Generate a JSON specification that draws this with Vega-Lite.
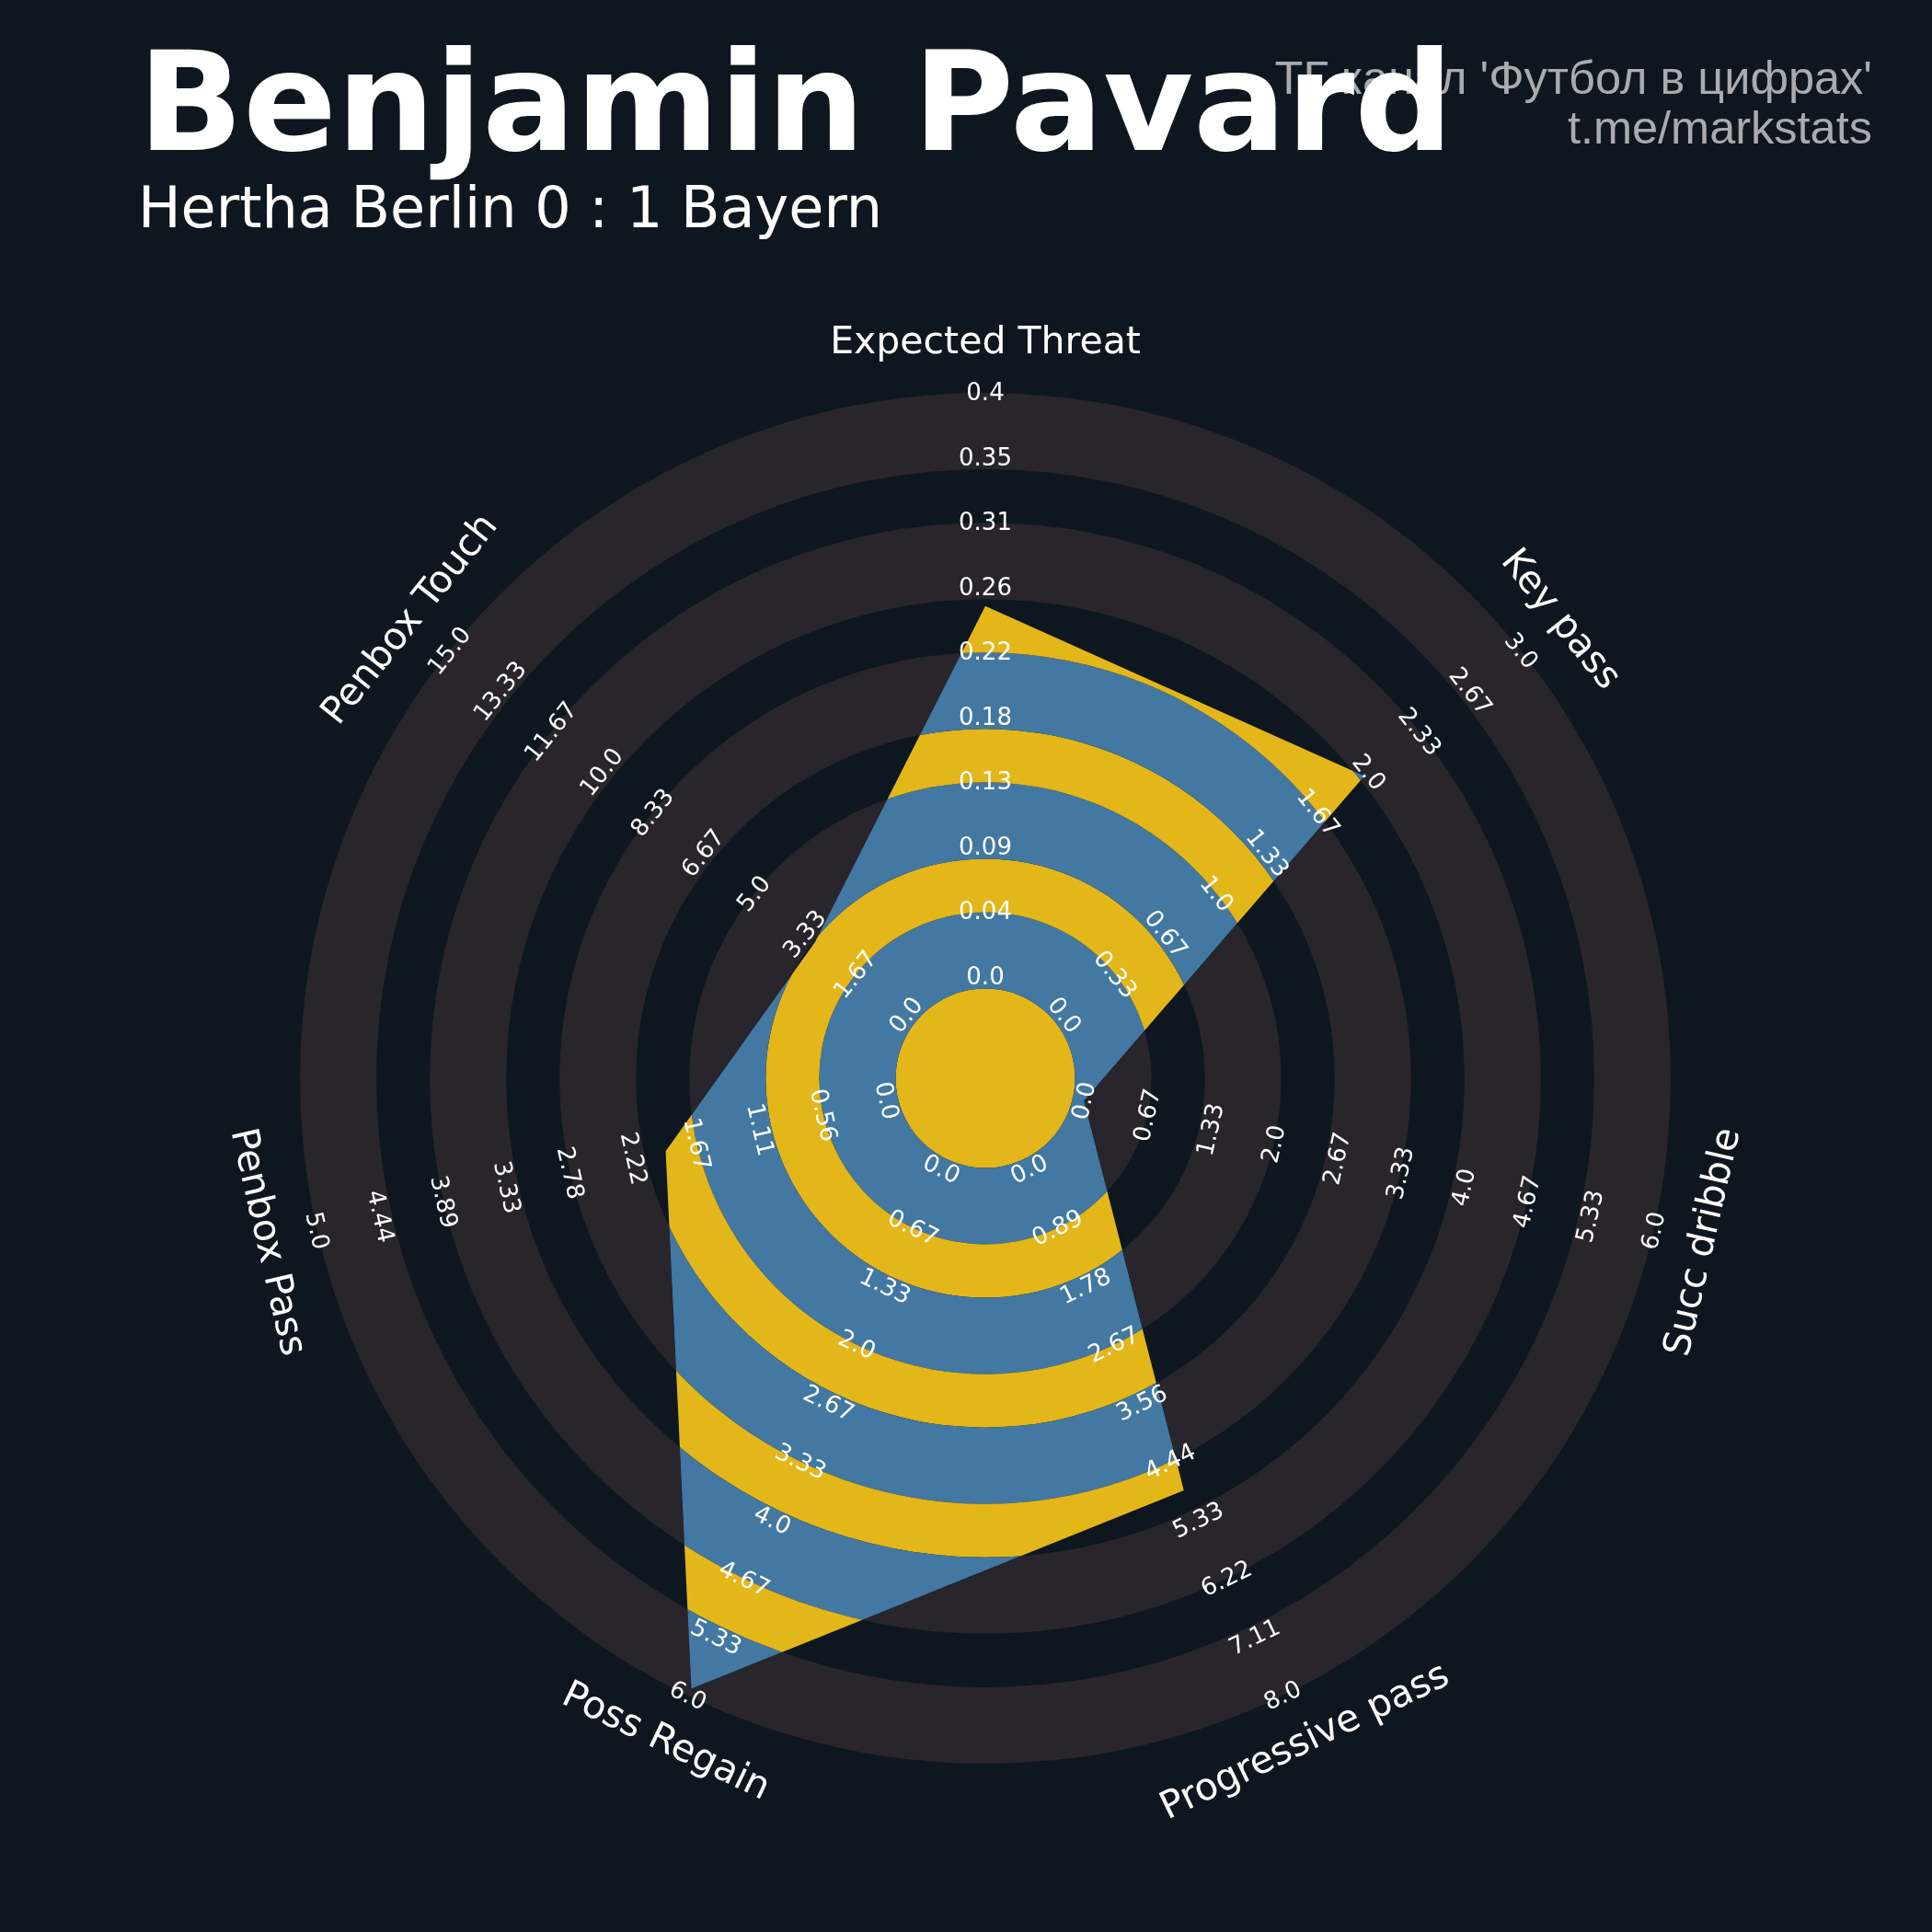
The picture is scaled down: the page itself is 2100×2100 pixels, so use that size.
{
  "$schema": "https://vega.github.io/schema/vega-lite/v6.json",
  "width": 2100,
  "height": 2100,
  "autosize": {"type": "none"},
  "padding": 0,
  "background": "#0e1720",
  "config": {"view": {"stroke": null}},
  "title": {
    "text": "Benjamin Pavard",
    "subtitle": "Hertha Berlin 0 : 1 Bayern",
    "anchor": "start",
    "frame": "group",
    "orient": "top",
    "offset": -260,
    "dx": 150,
    "font": "DejaVu Sans",
    "fontSize": 150,
    "fontWeight": "bold",
    "color": "#ffffff",
    "subtitleFont": "DejaVu Sans",
    "subtitleFontSize": 62,
    "subtitleColor": "#ffffff",
    "subtitlePadding": 4
  },
  "datasets": {
    "params": [
      {"param": "Expected Threat", "i": 0, "value": 0.254, "min": 0, "max": 0.4, "ticks": ["0.0", "0.04", "0.09", "0.13", "0.18", "0.22", "0.26", "0.31", "0.35", "0.4"]},
      {"param": "Key pass", "i": 1, "value": 1.97, "min": 0, "max": 3, "ticks": ["0.0", "0.33", "0.67", "1.0", "1.33", "1.67", "2.0", "2.33", "2.67", "3.0"]},
      {"param": "Succ dribble", "i": 2, "value": 0, "min": 0, "max": 6, "ticks": ["0.0", "0.67", "1.33", "2.0", "2.67", "3.33", "4.0", "4.67", "5.33", "6.0"]},
      {"param": "Progressive pass", "i": 3, "value": 4.88, "min": 0, "max": 8, "ticks": ["0.0", "0.89", "1.78", "2.67", "3.56", "4.44", "5.33", "6.22", "7.11", "8.0"]},
      {"param": "Poss Regain", "i": 4, "value": 5.92, "min": 0, "max": 6, "ticks": ["0.0", "0.67", "1.33", "2.0", "2.67", "3.33", "4.0", "4.67", "5.33", "6.0"]},
      {"param": "Penbox Pass", "i": 5, "value": 1.94, "min": 0, "max": 5, "ticks": ["0.0", "0.56", "1.11", "1.67", "2.22", "2.78", "3.33", "3.89", "4.44", "5.0"]},
      {"param": "Penbox Touch", "i": 6, "value": 3.0, "min": 0, "max": 15, "ticks": ["0.0", "1.67", "3.33", "5.0", "6.67", "8.33", "10.0", "11.67", "13.33", "15.0"]}
    ],
    "rings": [{"k": 0}, {"k": 1}, {"k": 2}, {"k": 3}, {"k": 4}, {"k": 5}, {"k": 6}, {"k": 7}, {"k": 8}, {"k": 9}]
  },
  "layer": [
    {
      "data": {"name": "rings"},
      "transform": [
        {"calculate": "110 + 70.55 * datum.k - (datum.k % 2 == 0 ? 12.5 : 0)", "as": "ro"},
        {"calculate": "datum.k == 0 ? 0 : 110 + 70.55 * (datum.k - 1) - ((datum.k - 1) % 2 == 0 ? 12.5 : 0)", "as": "ri"},
        {"calculate": "datum.k % 2 == 1 ? 'wide' : 'narrow'", "as": "band"}
      ],
      "mark": {"type": "arc", "theta": 0, "theta2": 6.283185307179586, "strokeWidth": 0},
      "encoding": {
        "x": {"datum": 0, "type": "quantitative", "scale": {"domain": [-1071, 1029], "nice": false, "zero": false}, "axis": null},
        "y": {"datum": 0, "type": "quantitative", "scale": {"domain": [-928, 1172], "nice": false, "zero": false}, "axis": null},
        "radius": {"field": "ro", "type": "quantitative", "scale": {"type": "linear", "domain": [0, 1000], "range": [0, 1000], "zero": true, "nice": false}},
        "radius2": {"field": "ri"},
        "color": {"field": "band", "type": "nominal", "scale": {"domain": ["wide", "narrow"], "range": ["#4278a2", "#e3b61a"]}, "legend": null}
      }
    },
    {
      "data": {"name": "params"},
      "transform": [
        {"calculate": "datum.i * 2 * PI / 7", "as": "ang"},
        {"calculate": "110 + 634.95 * (datum.value - datum.min) / (datum.max - datum.min)", "as": "rP"},
        {"calculate": "datum.rP", "as": "rP2"},
        {"calculate": "900", "as": "rO"},
        {"calculate": "900", "as": "rO2"},
        {"fold": ["rP", "rP2", "rO", "rO2"], "as": ["kind", "rr"]},
        {"filter": "datum.kind == 'rP' || datum.kind == 'rO' || datum.i == 0"},
        {"calculate": "datum.kind == 'rP' ? datum.i : (datum.kind == 'rP2' ? 7 : (datum.kind == 'rO2' ? 8 : (datum.i == 0 ? 15 : 15 - datum.i)))", "as": "ord"},
        {"calculate": "datum.rr * sin(datum.ang)", "as": "mx"},
        {"calculate": "datum.rr * cos(datum.ang)", "as": "my"}
      ],
      "mark": {"type": "line", "fill": "#0e1720", "strokeWidth": 0, "strokeOpacity": 0},
      "encoding": {
        "x": {"field": "mx", "type": "quantitative", "scale": {"domain": [-1071, 1029], "nice": false, "zero": false}, "axis": null},
        "y": {"field": "my", "type": "quantitative", "scale": {"domain": [-928, 1172], "nice": false, "zero": false}, "axis": null},
        "order": {"field": "ord", "type": "quantitative"}
      }
    },
    {
      "data": {"name": "rings"},
      "transform": [
        {"filter": "datum.k % 2 == 1"},
        {"calculate": "110 + 70.55 * datum.k", "as": "ro"},
        {"calculate": "110 + 70.55 * (datum.k - 1) - 12.5", "as": "ri"}
      ],
      "mark": {"type": "arc", "theta": 0, "theta2": 6.283185307179586, "fill": "#28252c", "blend": "lighten", "strokeWidth": 0},
      "encoding": {
        "x": {"datum": 0, "type": "quantitative", "scale": {"domain": [-1071, 1029], "nice": false, "zero": false}, "axis": null},
        "y": {"datum": 0, "type": "quantitative", "scale": {"domain": [-928, 1172], "nice": false, "zero": false}, "axis": null},
        "radius": {"field": "ro", "type": "quantitative", "scale": {"type": "linear", "domain": [0, 1000], "range": [0, 1000], "zero": true, "nice": false}},
        "radius2": {"field": "ri"}
      }
    },
    {
      "data": {"name": "params"},
      "transform": [
        {"flatten": ["ticks"], "as": ["tick"]},
        {"window": [{"op": "row_number", "as": "rn"}], "groupby": ["param"]},
        {"calculate": "110 + 70.55 * (datum.rn - 1)", "as": "r"},
        {"calculate": "datum.i * 2 * PI / 7", "as": "ang"},
        {"calculate": "datum.i * 360 / 7", "as": "deg"},
        {"calculate": "(datum.deg > 90 && datum.deg < 270) ? datum.deg - 180 : datum.deg", "as": "rot"},
        {"calculate": "datum.r * sin(datum.ang)", "as": "tx"},
        {"calculate": "datum.r * cos(datum.ang)", "as": "ty"}
      ],
      "mark": {"type": "text", "font": "DejaVu Sans", "fontSize": 26, "fill": "#ffffff", "align": "center", "baseline": "middle"},
      "encoding": {
        "x": {"field": "tx", "type": "quantitative", "scale": {"domain": [-1071, 1029], "nice": false, "zero": false}, "axis": null},
        "y": {"field": "ty", "type": "quantitative", "scale": {"domain": [-928, 1172], "nice": false, "zero": false}, "axis": null},
        "text": {"field": "tick", "type": "nominal"},
        "angle": {"field": "rot", "type": "quantitative", "scale": null}
      }
    },
    {
      "data": {"name": "params"},
      "transform": [
        {"calculate": "datum.i * 2 * PI / 7", "as": "ang"},
        {"calculate": "datum.i * 360 / 7", "as": "deg"},
        {"calculate": "(datum.deg > 90 && datum.deg < 270) ? datum.deg - 180 : datum.deg", "as": "rot"},
        {"calculate": "800 * sin(datum.ang)", "as": "px"},
        {"calculate": "800 * cos(datum.ang)", "as": "py"}
      ],
      "mark": {"type": "text", "font": "DejaVu Sans", "fontSize": 41, "fill": "#ffffff", "align": "center", "baseline": "middle"},
      "encoding": {
        "x": {"field": "px", "type": "quantitative", "scale": {"domain": [-1071, 1029], "nice": false, "zero": false}, "axis": null},
        "y": {"field": "py", "type": "quantitative", "scale": {"domain": [-928, 1172], "nice": false, "zero": false}, "axis": null},
        "text": {"field": "param", "type": "nominal"},
        "angle": {"field": "rot", "type": "quantitative", "scale": null}
      }
    },
    {
      "data": {"values": [{}]},
      "mark": {"type": "text", "text": ["ТГ канал 'Футбол в цифрах'", "t.me/markstats"], "font": "Liberation Sans", "fontSize": 50.5, "lineHeight": 54, "fill": "#a9abae", "align": "right", "baseline": "alphabetic"},
      "encoding": {
        "x": {"datum": 964, "type": "quantitative", "scale": {"domain": [-1071, 1029], "nice": false, "zero": false}, "axis": null},
        "y": {"datum": 1070, "type": "quantitative", "scale": {"domain": [-928, 1172], "nice": false, "zero": false}, "axis": null}
      }
    }
  ]
}
